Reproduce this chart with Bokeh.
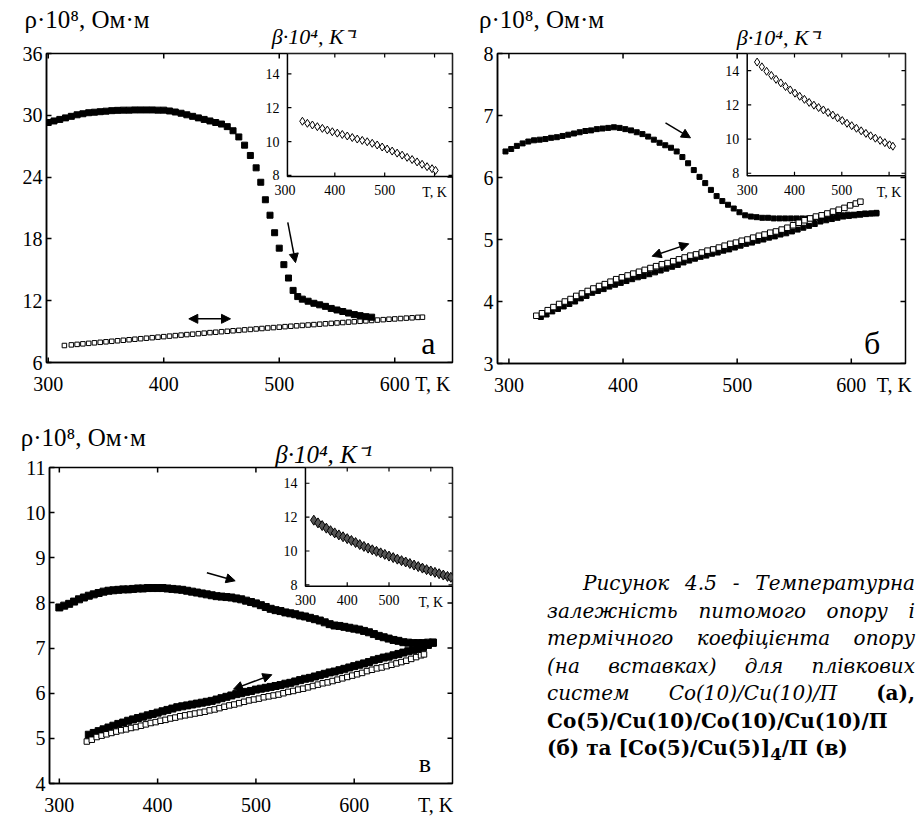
import numpy as np
from bokeh.plotting import figure
from bokeh.models import Range1d, LinearAxis, FixedTicker, Label, Arrow, NormalHead, Div
from bokeh.layouts import column, row
from bokeh.embed import file_html
from bokeh.resources import INLINE
from bokeh.core.properties import value

FONT = "Liberation Serif"

# ---------------- data: panel a ----------------
a_xticks = [300, 400, 500, 600]
a_yticks = [6, 12, 18, 24, 30, 36]
a_heat_T = [300, 305, 310, 315, 320, 325, 330, 335, 340, 345, 350, 355, 360, 365, 370, 375, 380, 385, 390, 395,
            400, 405, 410, 415, 420, 425, 430, 435, 440, 445, 450, 455, 460, 465, 470, 475, 480, 484, 488, 492,
            496, 500, 504, 508, 512, 516, 520, 525, 530, 535, 540, 545, 550, 555, 560, 565, 570, 575, 580]
a_heat_r = [29.3, 29.45, 29.6, 29.75, 29.9, 30.05, 30.15, 30.25, 30.3, 30.35, 30.4, 30.45, 30.48, 30.5, 30.5,
            30.52, 30.52, 30.52, 30.52, 30.5, 30.5, 30.42, 30.32, 30.2, 30.05, 29.9, 29.75, 29.6, 29.45, 29.3,
            29.15, 28.9, 28.5, 27.9, 27.1, 26.1, 24.9, 23.5, 21.8, 20.3, 18.6, 17.1, 15.5, 14.2, 13.0, 12.4,
            12.15, 11.95, 11.75, 11.6, 11.45, 11.25, 11.1, 10.95, 10.8, 10.65, 10.55, 10.45, 10.4]
a_cool_T = [314, 320, 325, 330, 335, 340, 345, 350, 355, 360, 365, 370, 375, 380, 385, 390, 395, 400, 405, 410,
            415, 420, 425, 430, 435, 440, 445, 450, 455, 460, 465, 470, 475, 480, 485, 490, 495, 500, 505, 510,
            515, 520, 525, 530, 535, 540, 545, 550, 555, 560, 565, 570, 575, 580, 585, 590, 595, 600, 605, 610,
            615, 620, 624]
a_cool_r = [7.65, 7.71, 7.76, 7.81, 7.86, 7.91, 7.96, 8.01, 8.06, 8.11, 8.16, 8.21, 8.26, 8.31, 8.36, 8.41, 8.46,
            8.51, 8.56, 8.61, 8.66, 8.71, 8.75, 8.80, 8.85, 8.90, 8.94, 8.99, 9.03, 9.08, 9.12, 9.17, 9.21, 9.26,
            9.30, 9.35, 9.39, 9.43, 9.48, 9.52, 9.56, 9.60, 9.64, 9.68, 9.72, 9.76, 9.80, 9.84, 9.88, 9.92, 9.96,
            10.0, 10.04, 10.08, 10.12, 10.16, 10.2, 10.23, 10.27, 10.31, 10.34, 10.38, 10.4]
a_ins_T = [335, 345, 355, 365, 375, 385, 395, 405, 415, 425, 435, 445, 455, 465, 475, 485, 495, 505, 515, 525,
           535, 545, 555, 565, 575, 585, 595, 602]
a_ins_b = [11.2, 11.08, 10.98, 10.88, 10.78, 10.68, 10.58, 10.5, 10.42, 10.33, 10.24, 10.15, 10.07, 9.99, 9.9,
           9.8, 9.68, 9.56, 9.44, 9.32, 9.2, 9.07, 8.94, 8.8, 8.66, 8.52, 8.4, 8.3]

# ---------------- data: panel b ----------------
b_xticks = [300, 400, 500, 600]
b_yticks = [3, 4, 5, 6, 7, 8]
b_heat_T = [297, 302, 307, 312, 317, 322, 327, 332, 337, 342, 347, 352, 357, 362, 367, 372, 377, 382, 387, 392,
            397, 402, 407, 412, 417, 422, 427, 432, 437, 442, 447, 452, 457, 462, 467, 472, 477, 482, 487, 492,
            497, 502, 507, 512, 517, 522, 527, 532, 537, 542, 547, 552, 557, 562, 567, 572, 577, 582, 587, 592,
            597, 602, 607, 612, 617, 622]
b_heat_r = [6.42, 6.46, 6.51, 6.55, 6.58, 6.60, 6.61, 6.62, 6.64, 6.65, 6.67, 6.69, 6.71, 6.73, 6.75, 6.76, 6.78,
            6.79, 6.80, 6.81, 6.80, 6.78, 6.76, 6.73, 6.70, 6.66, 6.61, 6.56, 6.52, 6.48, 6.42, 6.33, 6.23, 6.12,
            6.01, 5.91, 5.80, 5.70, 5.62, 5.56, 5.50, 5.44, 5.39, 5.37, 5.36, 5.35, 5.35, 5.34, 5.34, 5.34, 5.34,
            5.34, 5.34, 5.34, 5.34, 5.35, 5.36, 5.37, 5.38, 5.39, 5.40, 5.40, 5.41, 5.42, 5.42, 5.43]
b_cool_T = [324, 329, 334, 339, 344, 349, 354, 359, 364, 369, 374, 379, 384, 389, 394, 399, 404, 409, 414, 419,
            424, 429, 434, 439, 444, 449, 454, 459, 464, 469, 474, 479, 484, 489, 494, 499, 504, 509, 514, 519,
            524, 529, 534, 539, 544, 549, 554, 559, 564, 569, 574, 579, 584, 589, 594, 599, 604, 608]
b_cool_r = [3.77, 3.81, 3.86, 3.91, 3.96, 4.00, 4.04, 4.09, 4.13, 4.17, 4.21, 4.25, 4.28, 4.32, 4.36, 4.39, 4.42,
            4.45, 4.48, 4.51, 4.54, 4.57, 4.60, 4.62, 4.65, 4.68, 4.71, 4.74, 4.76, 4.79, 4.82, 4.84, 4.87, 4.90,
            4.93, 4.95, 4.98, 5.00, 5.03, 5.06, 5.08, 5.11, 5.13, 5.16, 5.19, 5.23, 5.27, 5.31, 5.34, 5.37, 5.39,
            5.42, 5.45, 5.48, 5.51, 5.55, 5.58, 5.61]
b_heat2_T = [328, 333, 338, 343, 348, 353, 358, 363, 368, 373, 378, 383, 388, 393, 398, 403, 408, 413, 418, 423,
             428, 433, 438, 443, 448, 453, 458, 463, 468, 473, 478, 483, 488, 493, 498, 503, 508, 513, 518, 523,
             528, 533, 538, 543, 548, 553, 558, 563, 568, 573, 578, 583, 588, 593, 598, 603, 608, 613, 618, 622]
b_heat2_r = [3.75, 3.79, 3.84, 3.88, 3.92, 3.96, 4.00, 4.05, 4.09, 4.14, 4.17, 4.20, 4.24, 4.27, 4.30, 4.33, 4.36,
             4.39, 4.41, 4.44, 4.47, 4.50, 4.53, 4.56, 4.59, 4.63, 4.66, 4.69, 4.72, 4.74, 4.77, 4.79, 4.82, 4.84,
             4.87, 4.90, 4.93, 4.95, 4.98, 5.00, 5.03, 5.05, 5.08, 5.10, 5.13, 5.16, 5.19, 5.22, 5.25, 5.29, 5.31,
             5.33, 5.35, 5.37, 5.38, 5.39, 5.40, 5.41, 5.42, 5.42]
b_ins_T = [321, 331, 341, 351, 361, 371, 381, 391, 401, 411, 421, 431, 441, 451, 461, 471, 481, 491, 501, 511,
           521, 531, 541, 551, 561, 571, 581, 591, 601, 608]
b_ins_b = [14.5, 14.22, 13.96, 13.72, 13.49, 13.28, 13.07, 12.87, 12.68, 12.5, 12.32, 12.14, 11.98, 11.84, 11.7,
           11.55, 11.4, 11.24, 11.08, 10.92, 10.78, 10.63, 10.48, 10.33, 10.19, 10.05, 9.92, 9.79, 9.66, 9.58]

# ---------------- data: panel c ----------------
c_xticks = [300, 400, 500, 600]
c_yticks = [4, 5, 6, 7, 8, 9, 10, 11]
c_heat_T = [300, 305, 310, 315, 320, 325, 330, 335, 340, 345, 350, 355, 360, 365, 370, 375, 380, 385, 390, 395,
            400, 405, 410, 415, 420, 425, 430, 435, 440, 445, 450, 455, 460, 465, 470, 475, 480, 485, 490, 495,
            500, 505, 510, 515, 520, 525, 530, 535, 540, 545, 550, 555, 560, 565, 570, 575, 580, 585, 590, 595,
            600, 605, 610, 615, 620, 625, 630, 635, 640, 645, 650, 655, 660, 665, 670, 675, 680]
c_heat_r = [7.90, 7.94, 7.98, 8.03, 8.08, 8.12, 8.16, 8.19, 8.22, 8.25, 8.27, 8.28, 8.29, 8.30, 8.30, 8.31, 8.32,
            8.32, 8.33, 8.33, 8.33, 8.33, 8.32, 8.31, 8.30, 8.29, 8.27, 8.25, 8.23, 8.21, 8.19, 8.17, 8.15, 8.14,
            8.13, 8.12, 8.10, 8.08, 8.05, 8.02, 7.99, 7.95, 7.91, 7.87, 7.84, 7.82, 7.79, 7.77, 7.75, 7.72, 7.70,
            7.67, 7.64, 7.61, 7.57, 7.53, 7.50, 7.49, 7.47, 7.45, 7.43, 7.41, 7.38, 7.35, 7.31, 7.27, 7.24, 7.21,
            7.18, 7.16, 7.13, 7.12, 7.11, 7.11, 7.11, 7.12, 7.12]
c_cool_T = [328, 333, 338, 343, 348, 353, 358, 363, 368, 373, 378, 383, 388, 393, 398, 403, 408, 413, 418, 423,
            428, 433, 438, 443, 448, 453, 458, 463, 468, 473, 478, 483, 488, 493, 498, 503, 508, 513, 518, 523,
            528, 533, 538, 543, 548, 553, 558, 563, 568, 573, 578, 583, 588, 593, 598, 603, 608, 613, 618, 623,
            628, 633, 638, 643, 648, 653, 658, 663, 668, 671]
c_cool_r = [4.93, 4.97, 5.03, 5.06, 5.09, 5.12, 5.15, 5.18, 5.20, 5.23, 5.25, 5.28, 5.31, 5.34, 5.36, 5.39, 5.41,
            5.44, 5.46, 5.49, 5.51, 5.53, 5.55, 5.57, 5.59, 5.62, 5.64, 5.67, 5.70, 5.73, 5.75, 5.78, 5.81, 5.84,
            5.86, 5.88, 5.91, 5.93, 5.95, 5.97, 6.00, 6.03, 6.05, 6.08, 6.10, 6.13, 6.16, 6.19, 6.22, 6.24, 6.27,
            6.30, 6.33, 6.36, 6.39, 6.42, 6.45, 6.49, 6.52, 6.55, 6.57, 6.60, 6.63, 6.66, 6.69, 6.72, 6.76, 6.80,
            6.84, 6.86]
c_heat2_T = [330, 335, 340, 345, 350, 355, 360, 365, 370, 375, 380, 385, 390, 395, 400, 405, 410, 415, 420, 425,
             430, 435, 440, 445, 450, 455, 460, 465, 470, 475, 480, 485, 490, 495, 500, 505, 510, 515, 520, 525,
             530, 535, 540, 545, 550, 555, 560, 565, 570, 575, 580, 585, 590, 595, 600, 605, 610, 615, 620, 625,
             630, 635, 640, 645, 650, 655, 660, 665, 670, 675, 680]
c_heat2_r = [5.08, 5.12, 5.16, 5.20, 5.24, 5.28, 5.32, 5.35, 5.39, 5.42, 5.45, 5.48, 5.51, 5.54, 5.57, 5.60, 5.63,
             5.66, 5.69, 5.71, 5.73, 5.75, 5.77, 5.79, 5.81, 5.83, 5.86, 5.89, 5.92, 5.95, 5.98, 6.00, 6.03, 6.05,
             6.08, 6.10, 6.12, 6.14, 6.16, 6.18, 6.21, 6.23, 6.26, 6.29, 6.32, 6.34, 6.37, 6.40, 6.43, 6.46, 6.48,
             6.51, 6.54, 6.57, 6.60, 6.63, 6.66, 6.69, 6.73, 6.76, 6.79, 6.81, 6.84, 6.87, 6.90, 6.93, 6.95, 6.98,
             7.02, 7.07, 7.12]
c_ins_T = [320, 330, 340, 350, 360, 370, 380, 390, 400, 410, 420, 430, 440, 450, 460, 470, 480, 490, 500, 510,
           520, 530, 540, 550, 560, 570, 580, 590, 600, 610, 620, 630, 640, 648]
c_ins_b = [11.82, 11.66, 11.5, 11.35, 11.2, 11.07, 10.95, 10.84, 10.73, 10.62, 10.5, 10.38, 10.27, 10.17, 10.07,
           9.98, 9.89, 9.8, 9.7, 9.61, 9.52, 9.43, 9.35, 9.26, 9.17, 9.08, 8.99, 8.9, 8.82, 8.74, 8.66, 8.58,
           8.5, 8.45]

ins_xticks = [300, 400, 500, 600]
ins_xlabels = ["300", "400", "500", "T, K"]
ins_yticks = [8, 10, 12, 14]
ins_ylabels = ["8", "10", "12", "14"]

RHO_LABEL = "ρ·10⁸, Ом·м"
BETA_LABEL = "β·10⁴, K⁻¹"
T_LABEL = "T, K"


def make_panel(left, top, fw, fh, right, bottom, xr, yr, xticks, yticks, fs, standoff, tk_pos):
    p = figure(frame_width=fw, frame_height=fh, x_range=Range1d(*xr), y_range=Range1d(*yr),
               output_backend="svg", toolbar_location=None,
               min_border_left=left, min_border_top=top, min_border_right=right, min_border_bottom=bottom)
    p.xgrid.visible = False
    p.ygrid.visible = False
    p.outline_line_color = "black"
    p.outline_line_width = 1.5
    p.background_fill_color = "white"
    p.border_fill_color = "white"
    p.xaxis.ticker = FixedTicker(ticks=xticks + [tk_pos])
    p.xaxis.major_label_overrides = {tk_pos: T_LABEL}
    p.yaxis.ticker = FixedTicker(ticks=yticks)
    for ax in (p.xaxis[0], p.yaxis[0]):
        ax.major_tick_in = 5
        ax.major_tick_out = 0
        ax.minor_tick_in = 0
        ax.minor_tick_out = 0
        ax.axis_line_width = 1.5
        ax.major_tick_line_width = 1.5
        ax.major_label_text_font = FONT
        ax.major_label_text_font_size = f"{fs}px"
        ax.major_label_text_color = "black"
    p.xaxis.major_tick_line_color = None
    p.xaxis.major_label_standoff = standoff
    p.yaxis.major_label_standoff = 4
    # inward tick marks on bottom, top and right edges
    x0, x1 = xr
    y0, y1 = yr
    p.ray(x=xticks, y=[y0] * len(xticks), length=5, length_units="screen", angle=np.pi / 2,
          line_color="black", line_width=1.5)
    p.ray(x=xticks, y=[y1] * len(xticks), length=5, length_units="screen", angle=-np.pi / 2,
          line_color="black", line_width=1.5)
    p.ray(x=[x1] * len(yticks), y=yticks, length=5, length_units="screen", angle=np.pi,
          line_color="black", line_width=1.5)
    return p


def add_top_labels(p, beta_pos, beta_fs, beta_so, rho_pos, rho_fs, rho_so):
    for pos, txt, fs, so, style in ((beta_pos, BETA_LABEL, beta_fs, beta_so, "italic"),
                                    (rho_pos, RHO_LABEL, rho_fs, rho_so, "normal")):
        ax = LinearAxis(ticker=FixedTicker(ticks=[pos]), major_label_overrides={pos: txt},
                        major_tick_line_color=None, minor_tick_line_color=None, axis_line_color=None,
                        major_tick_in=0, major_tick_out=0, minor_tick_in=0, minor_tick_out=0,
                        major_label_standoff=so, major_label_text_font=FONT,
                        major_label_text_font_size=f"{fs}px", major_label_text_font_style=style,
                        major_label_text_color="black")
        p.add_layout(ax, "above")


def add_inset(p, tgt_x, tgt_y, src_x, src_y, T, B, fill, size, fs):
    sub = p.subplot(x_source=Range1d(*src_x), y_source=Range1d(*src_y),
                    x_target=Range1d(*tgt_x), y_target=Range1d(*tgt_y))
    sub.quad(left=[src_x[0]], right=[src_x[1]], bottom=[src_y[0]], top=[src_y[1]],
             fill_color="white", line_color="black", line_width=1.5)
    sub.scatter(T, B, marker="diamond", size=size, fill_color=fill, line_color="black", line_width=1)
    xt = [t for t in ins_xticks if src_x[0] < t < src_x[1]]
    yt = [t for t in ins_yticks if src_y[0] < t < src_y[1]]
    sub.ray(x=xt, y=[src_y[0]] * len(xt), length=4, length_units="screen", angle=np.pi / 2,
            line_color="black", line_width=1.2)
    sub.ray(x=xt, y=[src_y[1]] * len(xt), length=4, length_units="screen", angle=-np.pi / 2,
            line_color="black", line_width=1.2)
    sub.ray(x=[src_x[0]] * len(yt), y=yt, length=4, length_units="screen", angle=0,
            line_color="black", line_width=1.2)
    sub.ray(x=[src_x[1]] * len(yt), y=yt, length=4, length_units="screen", angle=np.pi,
            line_color="black", line_width=1.2)
    sub.text(x=ins_xticks, y=[src_y[0]] * len(ins_xticks), text=ins_xlabels, text_align="center",
             text_baseline="top", y_offset=9, text_font=value(FONT), text_font_size=f"{fs}px",
             text_color="black")
    sub.text(x=[src_x[0]] * len(ins_yticks), y=ins_yticks, text=ins_ylabels, text_align="right",
             text_baseline="middle", x_offset=-8, text_font=value(FONT), text_font_size=f"{fs}px",
             text_color="black")


def arrow(p, x0, y0, x1, y1, double=False):
    kw = dict(end=NormalHead(size=9, fill_color="black", line_color="black"),
              x_start=x0, y_start=y0, x_end=x1, y_end=y1, line_width=1.5, line_color="black")
    kw["start"] = NormalHead(size=9, fill_color="black", line_color="black") if double else None
    p.add_layout(Arrow(**kw))


def letter(p, x, y, txt, fs):
    p.add_layout(Label(x=x, y=y, text=txt, text_font=FONT, text_font_size=f"{fs}px", text_align="center",
                       text_baseline="middle", text_color="black"))


# ---------------- panel a ----------------
pa = make_panel(46, 53, 406, 309, 8, 35, (298.5, 650), (6, 36), a_xticks, a_yticks, 20, 10, 633.0)
add_top_labels(pa, 530.5, 22, 5, 333.6, 25, -12)
add_inset(pa, (507.1, 650), (24.06, 36), (305, 636), (7.94, 15.2), a_ins_T, a_ins_b, "white", 8, 14)
pa.scatter(a_cool_T, a_cool_r, marker="square", size=4.5, fill_color="white", line_color="black", line_width=1)
pa.scatter(a_heat_T, a_heat_r, marker="square", size=6, fill_color="black", line_color="black")
arrow(pa, 507.4, 19.6, 514.1, 15.7)
arrow(pa, 421.7, 10.24, 457.8, 10.24, double=True)
letter(pa, 629, 7.9, "а", 32)

# ---------------- panel b ----------------
pb = make_panel(37, 52, 408, 310, 7, 35, (290, 647.5), (3, 8), b_xticks, b_yticks, 20, 10, 637.8)
add_top_labels(pb, 537.1, 22, 4, 328.6, 25, -11)
add_inset(pb, (508.8, 647.5), (6.03, 8), (300, 634.7), (7.86, 15.0), b_ins_T, b_ins_b, "white", 8, 14)
pb.scatter(b_heat_T, b_heat_r, marker="square", size=5, fill_color="black", line_color="black")
pb.scatter(b_heat2_T, b_heat2_r, marker="square", size=5, fill_color="black", line_color="black")
pb.scatter(b_cool_T, b_cool_r, marker="square", size=5.5, fill_color="white", line_color="black", line_width=1)
arrow(pb, 437.2, 6.88, 459.1, 6.64)
arrow(pb, 425.5, 4.73, 457.6, 4.93, double=True)
letter(pb, 618.3, 3.33, "б", 32)

# ---------------- panel c ----------------
pc = make_panel(49, 70, 403, 316, 43, 37, (290, 700), (4, 11), c_xticks, c_yticks, 20, 10, 682.7)
add_top_labels(pc, 569.0, 25, 0, 324.4, 25, -13)
add_inset(pc, (550.4, 700), (8.37, 11), (300, 652), (7.92, 14.93), c_ins_T, c_ins_b, "#555555", 10, 14)
pc.scatter(c_heat_T, c_heat_r, marker="square", size=7, fill_color="black", line_color="black")
pc.scatter(c_heat2_T, c_heat2_r, marker="square", size=7, fill_color="black", line_color="black")
pc.scatter(c_cool_T, c_cool_r, marker="square", size=5.5, fill_color="white", line_color="black", line_width=1)
arrow(pc, 450.1, 8.67, 478.9, 8.49)
arrow(pc, 477.2, 6.09, 516.2, 6.41, double=True)
letter(pc, 672, 4.45, "в", 26)

# ---------------- caption ----------------
line_style = "text-align:justify;text-align-last:justify;"
caption_html = f"""
<div style="width:419px;height:423px;position:relative;background:white;">
 <div style="position:absolute;left:47px;top:168px;width:368px;font-family:'DejaVu Serif';font-size:20px;
             line-height:27.5px;color:black;">
  <div style="{line_style}padding-left:36px;"><i>Рисунок 4.5 - Температурна</i></div>
  <div style="{line_style}"><i>залежність питомого опору і</i></div>
  <div style="{line_style}"><i>термічного коефіцієнта опору</i></div>
  <div style="{line_style}"><i>(на вставках) для плівкових</i></div>
  <div style="{line_style}"><i>систем Co(10)/Cu(10)/П</i> <b>(а),</b></div>
  <div><b>Co(5)/Cu(10)/Co(10)/Cu(10)/П</b></div>
  <div><b>(б) та [Co(5)/Cu(5)]<sub>4</sub>/П (в)</b></div>
 </div>
</div>
"""
cap = Div(text=caption_html, width=419, height=423)

layout = column(row(pa, pb), row(pc, cap))
open("out.html", "w").write(file_html(layout, INLINE))
